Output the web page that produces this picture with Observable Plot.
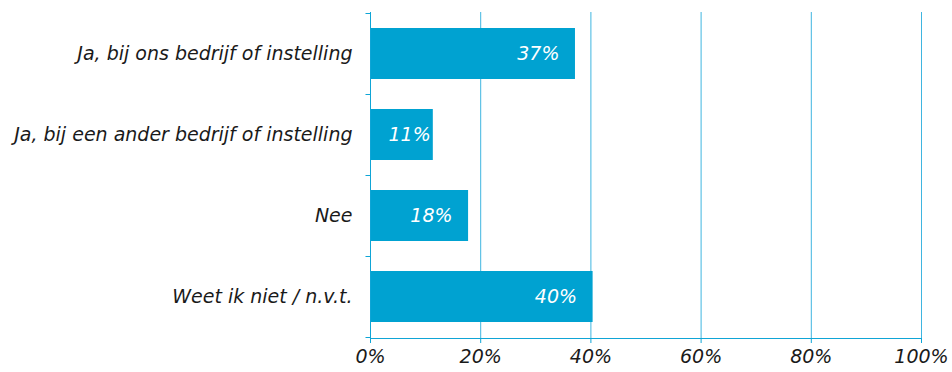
<!DOCTYPE html>
<html>
<head>
<meta charset="utf-8">
<script src="https://cdn.jsdelivr.net/npm/d3@7"></script>
<script src="https://cdn.jsdelivr.net/npm/@observablehq/plot@0.6"></script>
<style>
  html, body { margin: 0; padding: 0; background: #fff; }
  #chart svg { display: block; }
</style>
</head>
<body>
<div id="chart"></div>
<script>
const categories = [
  "Ja, bij ons bedrijf of instelling",
  "Ja, bij een ander bedrijf of instelling",
  "Nee",
  "Weet ik niet / n.v.t."
];
const values = [37.2, 11.4, 17.8, 40.4];
const labels = ["37%", "11%", "18%", "40%"];
const xTicks = [0, 20, 40, 60, 80, 100];

const data = categories.map((c, i) => ({category: c, value: values[i], label: labels[i]}));

const BLUE = "#00a2d1";
const LINE = "#0fa5d6";
const GRID = "#3fb5e0";
const FONT = "DejaVu Sans, Verdana, sans-serif";
const PAD = 0.37;
const NARROW = 15; // bars shorter than this keep their label anchored near the bar start

function frameLines(index, scales, values, dims) {
  const y = scales.y, x = scales.x;
  const step = y(categories[1]) - y(categories[0]);
  const bw = step * (1 - PAD);
  const g = d3.create("svg:g").attr("stroke", LINE).attr("fill", "none");
  const x0 = x(0) + 0.5;
  const bounds = categories.map(c => y(c) - step * PAD / 2);
  bounds.push(y(categories[categories.length - 1]) + bw + step * PAD / 2);
  for (const b of bounds) {
    const yy = Math.round(b) + 0.5;
    g.append("line").attr("x1", x0 - 5).attr("x2", x0).attr("y1", yy).attr("y2", yy);
  }
  g.append("line").attr("x1", x0).attr("x2", x0)
    .attr("y1", dims.marginTop).attr("y2", dims.height - dims.marginBottom);
  const yb = dims.height - dims.marginBottom + 0.5;
  g.append("line").attr("x1", x0).attr("x2", x(xTicks[xTicks.length - 1]) + 0.5)
    .attr("y1", yb).attr("y2", yb);
  return g.node();
}

const plot = Plot.plot({
  width: 952,
  height: 372,
  marginLeft: 370,
  marginRight: 31,
  marginTop: 12,
  marginBottom: 34,
  style: {fontFamily: FONT, fontSize: "19px", fontStyle: "italic", color: "#1a1a1a", background: "#fff"},
  x: {domain: [0, 100], axis: null},
  y: {domain: categories, paddingInner: PAD, paddingOuter: PAD / 2, axis: null},
  marks: [
    Plot.ruleX(xTicks.slice(1), {stroke: GRID, strokeWidth: 1}),
    Plot.barX(data, {x: "value", y: "category", fill: BLUE}),
    Plot.text(data.filter(d => d.value >= NARROW), {x: "value", y: "category", text: "label", textAnchor: "end", dx: -16, fill: "#fff", fontSize: 19, fontStyle: "italic"}),
    Plot.text(data.filter(d => d.value < NARROW), {x: 0, y: "category", text: "label", textAnchor: "start", dx: 18, fill: "#fff", fontSize: 19, fontStyle: "italic"}),
    Plot.axisY({tickSize: 0, tickPadding: 18, fontSize: 19, fill: "#1a1a1a", label: null}),
    Plot.axisX({ticks: xTicks, tickSize: 5, stroke: LINE, tickPadding: 6, tickFormat: d => d + "%", fontSize: 19, fill: "#1a1a1a", label: null}),
    frameLines
  ]
});
document.getElementById("chart").appendChild(plot);
</script>
</body>
</html>
